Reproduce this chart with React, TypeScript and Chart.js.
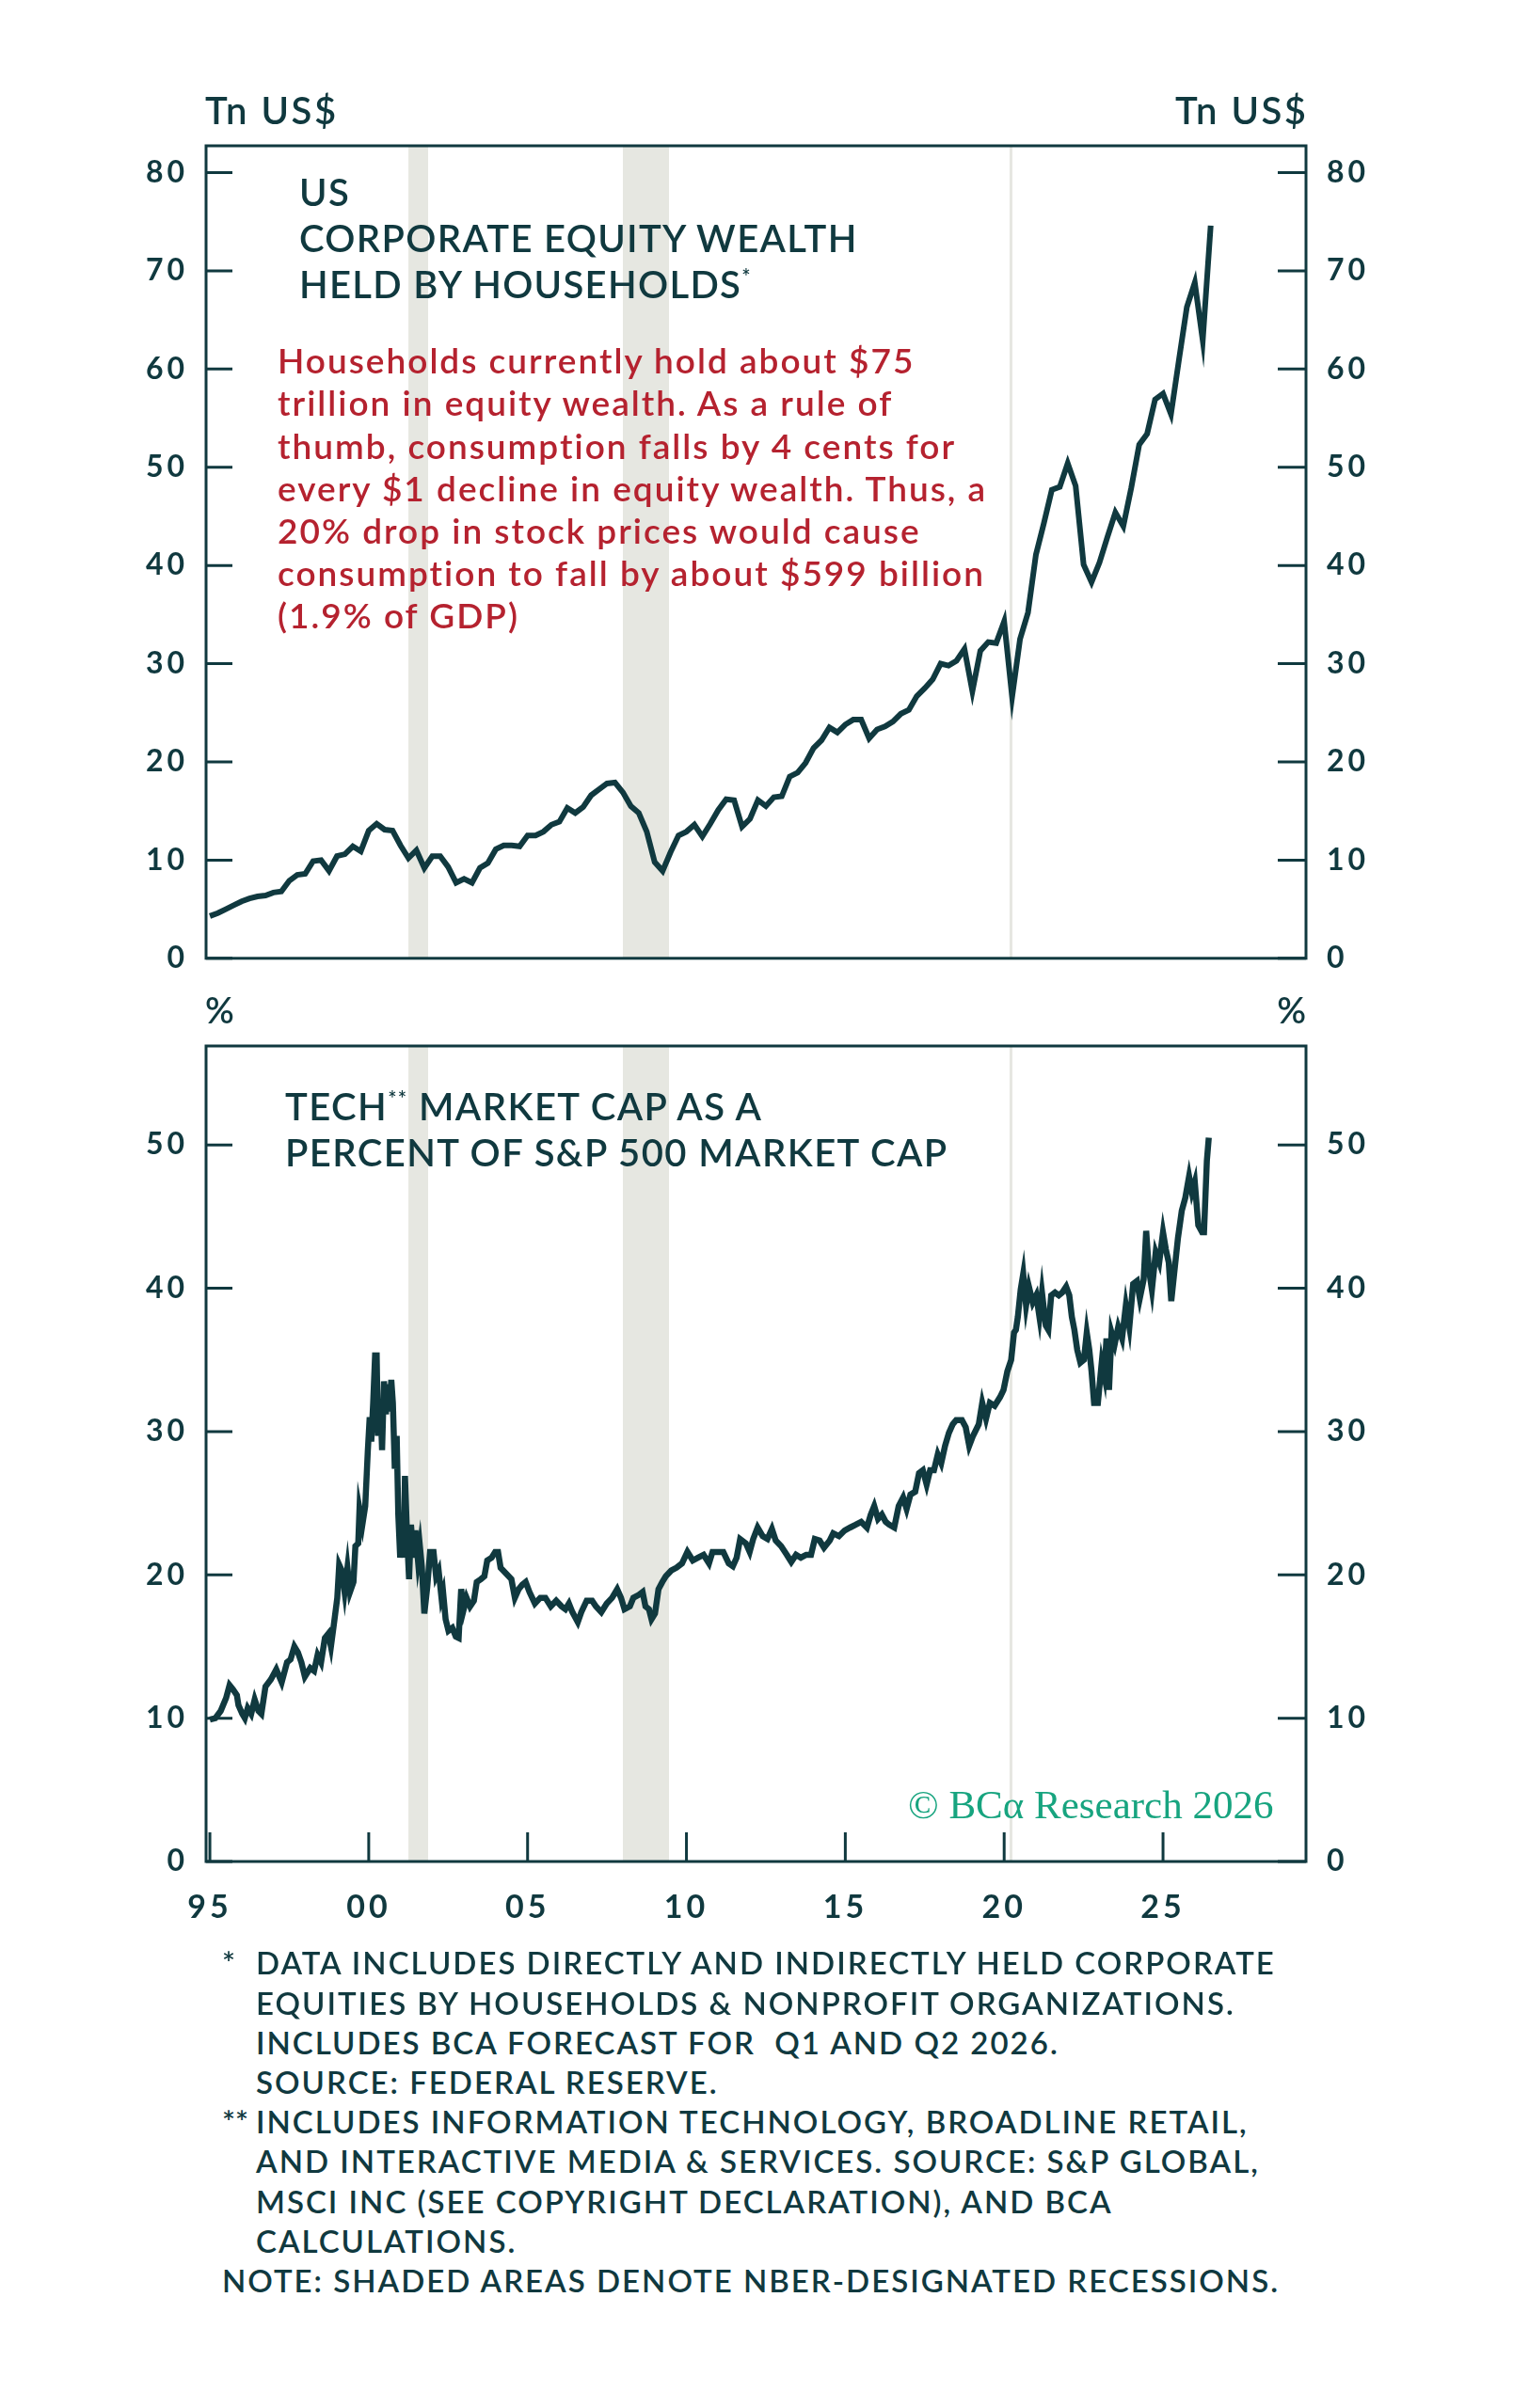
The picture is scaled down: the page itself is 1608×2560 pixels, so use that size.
import { useEffect, useRef } from "react";
import { Chart, registerables } from "chart.js";

Chart.register(...registerables);

const INK = "#10393f";
const RED = "#b5222f";
const BAND = "#e6e7e1";
const GREEN = "#17a47f";

// shared x range, decimal years
const xMin = 1994.88;
const xMax = 2029.5;
const xTickYears = [1995, 2000, 2005, 2010, 2015, 2020, 2025];

// NBER recessions
const recessionStart = [2001.25, 2008.0, 2020.17];
const recessionEnd = [2001.87, 2009.45, 2020.25];

// household equity wealth, Tn US$, quarterly from end of 1994Q4
const wealthStart = 1995;
const wealthTn = [
  4.3, 4.6, 5.0, 5.4, 5.8, 6.1, 6.3, 6.4, 6.7, 6.8,
  7.9, 8.5, 8.6, 9.9, 10.0, 8.9, 10.4, 10.6, 11.4, 10.9,
  13.0, 13.7, 13.1, 13.0, 11.5, 10.2, 11.0, 9.2, 10.4, 10.4,
  9.3, 7.7, 8.1, 7.7, 9.2, 9.7, 11.1, 11.5, 11.5, 11.4,
  12.5, 12.5, 12.9, 13.6, 13.9, 15.3, 14.8, 15.4, 16.6, 17.2,
  17.8, 17.9, 16.9, 15.5, 14.8, 12.9, 9.8, 8.9, 10.8, 12.5,
  12.9, 13.6, 12.4, 13.7, 15.1, 16.2, 16.1, 13.4, 14.2, 16.1,
  15.5, 16.4, 16.5, 18.5, 18.9, 19.9, 21.4, 22.2, 23.5, 23.0,
  23.8, 24.3, 24.3, 22.4, 23.3, 23.6, 24.1, 24.9, 25.3, 26.7,
  27.5, 28.4, 30.0, 29.8, 30.3, 31.5, 27.2, 31.3, 32.2, 32.1,
  34.3, 26.6, 32.5, 35.2, 41.1, 44.3, 47.7, 48.0, 50.4, 48.1,
  40.1, 38.3, 40.3, 42.9, 45.4, 44.0, 47.9, 52.3, 53.4, 56.9,
  57.5, 55.4, 60.9, 66.3, 68.8, 62.9, 74.6,
];

// tech share of S&P 500 market cap, %
const techYears = [
  1995.0, 1995.17, 1995.34, 1995.51, 1995.62, 1995.73, 1995.85, 1995.9, 1996.02, 1996.1,
  1996.19, 1996.3, 1996.41, 1996.53, 1996.62, 1996.75, 1996.92, 1997.09, 1997.26, 1997.43,
  1997.54, 1997.66, 1997.77, 1997.88, 1997.99, 1998.16, 1998.28, 1998.39, 1998.5, 1998.62,
  1998.73, 1998.81, 1998.9, 1999.01, 1999.07, 1999.15, 1999.24, 1999.33, 1999.41, 1999.52,
  1999.58, 1999.67, 1999.71, 1999.8, 1999.89, 1999.97, 2000.03, 2000.08, 2000.14, 2000.2,
  2000.25, 2000.29, 2000.37, 2000.42, 2000.48, 2000.54, 2000.59, 2000.65, 2000.71, 2000.76,
  2000.82, 2000.88, 2000.93, 2000.99, 2001.05, 2001.1, 2001.14, 2001.21, 2001.27, 2001.33,
  2001.41, 2001.47, 2001.55, 2001.61, 2001.67, 2001.75, 2001.84, 2001.93, 2002.04, 2002.12,
  2002.2, 2002.29, 2002.34, 2002.42, 2002.51, 2002.63, 2002.74, 2002.83, 2002.91, 2002.99,
  2003.08, 2003.19, 2003.31, 2003.4, 2003.53, 2003.64, 2003.73, 2003.87, 2003.98, 2004.07,
  2004.15, 2004.32, 2004.49, 2004.6, 2004.72, 2004.83, 2004.94, 2005.06, 2005.23, 2005.4,
  2005.56, 2005.73, 2005.9, 2006.07, 2006.19, 2006.3, 2006.41, 2006.58, 2006.69, 2006.86,
  2007.03, 2007.15, 2007.32, 2007.49, 2007.66, 2007.82, 2007.94, 2008.05, 2008.22, 2008.33,
  2008.5, 2008.62, 2008.71, 2008.82, 2008.9, 2009.01, 2009.12, 2009.24, 2009.35, 2009.52,
  2009.69, 2009.86, 2010.03, 2010.2, 2010.37, 2010.54, 2010.71, 2010.82, 2010.99, 2011.16,
  2011.33, 2011.46, 2011.58, 2011.69, 2011.87, 2011.99, 2012.1, 2012.24, 2012.4, 2012.55,
  2012.69, 2012.81, 2012.98, 2013.16, 2013.3, 2013.45, 2013.6, 2013.77, 2013.92, 2014.04,
  2014.19, 2014.33, 2014.51, 2014.62, 2014.8, 2014.98, 2015.15, 2015.33, 2015.5, 2015.68,
  2015.8, 2015.91, 2016.03, 2016.15, 2016.27, 2016.38, 2016.54, 2016.68, 2016.82, 2016.93,
  2017.05, 2017.2, 2017.32, 2017.44, 2017.56, 2017.67, 2017.79, 2017.91, 2018.02, 2018.14,
  2018.26, 2018.38, 2018.49, 2018.67, 2018.79, 2018.9, 2019.02, 2019.2, 2019.31, 2019.43,
  2019.55, 2019.7, 2019.87, 2019.98, 2020.1, 2020.22, 2020.31, 2020.37, 2020.43, 2020.52,
  2020.6, 2020.69, 2020.78, 2020.9, 2021.01, 2021.11, 2021.19, 2021.31, 2021.39, 2021.48,
  2021.6, 2021.72, 2021.83, 2021.95, 2022.05, 2022.13, 2022.21, 2022.3, 2022.4, 2022.51,
  2022.6, 2022.68, 2022.75, 2022.83, 2022.95, 2023.07, 2023.15, 2023.22, 2023.3, 2023.38,
  2023.48, 2023.59, 2023.71, 2023.83, 2023.94, 2024.06, 2024.18, 2024.27, 2024.39, 2024.47,
  2024.55, 2024.65, 2024.77, 2024.88, 2025.0, 2025.09, 2025.18, 2025.26, 2025.35, 2025.47,
  2025.59, 2025.7, 2025.82, 2025.91, 2026.0, 2026.11, 2026.23, 2026.29, 2026.38, 2026.44,
];
const techShare = [
  9.9, 10.0, 10.5, 11.4, 12.3, 12.0, 11.6, 10.9, 10.3, 10.0,
  10.7, 10.3, 11.3, 10.5, 10.3, 12.2, 12.7, 13.4, 12.5, 13.9,
  14.1, 15.0, 14.6, 13.9, 12.9, 13.5, 13.3, 14.4, 13.9, 15.6,
  15.9, 15.0, 16.5, 18.4, 20.7, 20.3, 18.8, 20.5, 18.8, 19.5,
  22.0, 22.2, 24.6, 23.5, 24.8, 28.6, 31.0, 29.3, 32.0, 35.3,
  35.3, 29.7, 32.0, 28.7, 33.5, 31.2, 33.3, 31.4, 33.6, 32.0,
  27.4, 29.7, 24.2, 21.2, 23.7, 21.2, 26.9, 22.5, 19.7, 23.5,
  21.2, 23.1, 21.0, 22.0, 20.6, 17.3, 19.1, 21.6, 21.6, 19.9,
  20.3, 18.4, 18.8, 16.9, 16.1, 16.3, 15.7, 15.6, 19.0, 17.6,
  18.4, 17.8, 18.2, 19.5, 19.7, 19.9, 21.0, 21.2, 21.6, 21.6,
  20.5, 20.1, 19.7, 18.4, 19.0, 19.3, 19.5, 18.8, 18.0, 18.4,
  18.4, 17.8, 18.2, 17.8, 17.6, 18.0, 17.4, 16.7, 17.4, 18.2,
  18.2, 17.8, 17.4, 18.0, 18.4, 19.0, 18.4, 17.6, 17.8, 18.4,
  18.6, 18.8, 17.8, 17.6, 16.9, 17.3, 19.0, 19.5, 19.9, 20.3,
  20.5, 20.8, 21.6, 21.0, 21.2, 21.4, 20.8, 21.6, 21.6, 21.6,
  20.8, 20.6, 21.2, 22.5, 22.2, 21.6, 22.5, 23.3, 22.7, 22.5,
  23.2, 22.4, 22.0, 21.4, 20.9, 21.4, 21.2, 21.4, 21.4, 22.5,
  22.4, 21.9, 22.4, 22.9, 22.7, 23.1, 23.3, 23.5, 23.7, 23.3,
  24.2, 24.8, 23.9, 24.2, 23.7, 23.5, 23.3, 24.8, 25.4, 24.6,
  25.6, 25.8, 27.1, 27.3, 26.3, 27.3, 27.3, 28.4, 27.8, 29.0,
  29.9, 30.5, 30.8, 30.8, 30.3, 29.0, 29.7, 30.5, 32.0, 30.9,
  32.0, 31.8, 32.4, 32.9, 34.2, 35.0, 36.9, 37.1, 38.0, 39.9,
  41.0, 38.8, 40.1, 39.0, 39.5, 38.0, 39.7, 37.4, 37.1, 39.5,
  39.7, 39.5, 39.7, 40.1, 39.5, 38.0, 37.1, 35.7, 34.8, 35.0,
  36.9, 35.7, 34.2, 32.0, 32.0, 34.8, 33.9, 36.5, 32.9, 36.9,
  36.1, 37.3, 36.5, 38.8, 37.3, 40.3, 40.5, 39.3, 40.6, 44.0,
  41.4, 39.9, 42.5, 41.8, 43.9, 42.7, 41.8, 39.1, 41.0, 43.5,
  45.4, 46.3, 47.8, 46.7, 47.4, 44.4, 43.9, 43.9, 48.9, 50.5,
];

const W = 1608;
const PLOT_L = 219;
const PLOT_R = 1388;

const tickFont = { family: "Lato", size: 32, weight: 700 as const };

// recession bands under the line, frame and inward tick marks on top
const framePlugin = {
  id: "frame",
  beforeDraw(chart: any) {
    chart.ctx.letterSpacing = "4px";
  },
  beforeDatasetsDraw(chart: any) {
    const { ctx, chartArea: a, scales } = chart;
    ctx.save();
    ctx.fillStyle = BAND;
    recessionStart.forEach((s, i) => {
      const x0 = scales.x.getPixelForValue(s);
      const x1 = scales.x.getPixelForValue(recessionEnd[i]);
      ctx.fillRect(x0, a.top, Math.max(x1 - x0, 3), a.bottom - a.top);
    });
    ctx.restore();
  },
  afterDatasetsDraw(chart: any, _args: any, opts: any) {
    const { ctx, chartArea: a, scales } = chart;
    ctx.save();
    ctx.strokeStyle = INK;
    ctx.lineWidth = 3;
    ctx.strokeRect(a.left, a.top, a.right - a.left, a.bottom - a.top);
    ctx.beginPath();
    scales.y.ticks.forEach((t: any) => {
      const py = scales.y.getPixelForValue(t.value);
      ctx.moveTo(a.left, py);
      ctx.lineTo(a.left + 28, py);
      ctx.moveTo(a.right - 30, py);
      ctx.lineTo(a.right, py);
    });
    if (opts && opts.xTicks) {
      xTickYears.forEach((v) => {
        const px = scales.x.getPixelForValue(v);
        ctx.moveTo(px, a.bottom);
        ctx.lineTo(px, a.bottom - 31);
      });
    }
    ctx.stroke();
    ctx.restore();
  },
  afterDraw(chart: any) {
    chart.ctx.letterSpacing = "0px";
  },
};

function yAxes(yMax: number) {
  const common = {
    min: 0,
    max: yMax,
    afterBuildTicks: (s: any) => {
      s.ticks = s.ticks.filter((t: any) => t.value % 10 === 0);
    },
    grid: { display: false, drawTicks: false },
    border: { display: false },
  };
  return {
    y: {
      ...common,
      position: "left" as const,
      ticks: { stepSize: 10, includeBounds: false, padding: 19, color: INK, font: tickFont },
      afterFit: (s: any) => {
        s.width = PLOT_L;
      },
    },
    y2: {
      ...common,
      position: "right" as const,
      ticks: { stepSize: 10, includeBounds: false, padding: 22, color: INK, font: tickFont },
      afterFit: (s: any) => {
        s.width = W - PLOT_R;
      },
    },
  };
}

function Txt(props: {
  x: number;
  y: number;
  size: number;
  weight?: number;
  color?: string;
  align?: "left" | "right";
  family?: string;
  ascent?: number;
  spacing?: number;
  children: any;
}) {
  const {
    x,
    y,
    size,
    weight = 600,
    color = INK,
    align = "left",
    family = "Lato",
    ascent = 0.987,
    spacing = 0,
  } = props;
  const style: any = {
    position: "absolute",
    top: y - ascent * size,
    fontSize: size,
    lineHeight: 1.2,
    fontFamily: family,
    fontWeight: weight,
    letterSpacing: spacing,
    color,
    whiteSpace: "pre",
  };
  if (align === "left") style.left = x;
  else style.right = W - x - spacing;
  return <div style={style}>{props.children}</div>;
}

const sup = { fontSize: "0.55em", verticalAlign: "0.7em" };

const App = () => {
  const topRef = useRef<HTMLCanvasElement>(null);
  const botRef = useRef<HTMLCanvasElement>(null);

  useEffect(() => {
    if (!topRef.current || !botRef.current) return;

    const top = new Chart(topRef.current, {
      type: "line",
      data: {
        datasets: [
          {
            data: wealthTn.map((v, i) => ({ x: wealthStart + i / 4, y: v })),
            borderColor: INK,
            borderWidth: 6,
            pointRadius: 0,
            tension: 0,
          },
        ],
      },
      options: {
        animation: false,
        responsive: false,
        events: [],
        layout: { padding: { top: 155, bottom: 25, left: 0, right: 0 } },
        plugins: { legend: { display: false }, tooltip: { enabled: false }, frame: { xTicks: false } } as any,
        scales: {
          x: { type: "linear", display: false, min: xMin, max: xMax },
          ...yAxes(82.73),
        },
      },
      plugins: [framePlugin],
    });

    const bot = new Chart(botRef.current, {
      type: "line",
      data: {
        datasets: [
          {
            data: techShare.map((v, i) => ({ x: techYears[i], y: v })),
            borderColor: INK,
            borderWidth: 6.5,
            pointRadius: 0,
            tension: 0,
          },
        ],
      },
      options: {
        animation: false,
        responsive: false,
        events: [],
        layout: { padding: { top: 52, bottom: 0, left: 0, right: 0 } },
        plugins: { legend: { display: false }, tooltip: { enabled: false }, frame: { xTicks: true } } as any,
        scales: {
          x: {
            type: "linear",
            min: xMin,
            max: xMax,
            afterBuildTicks: (s: any) => {
              s.ticks = xTickYears.map((v) => ({ value: v }));
            },
            ticks: {
              callback: (v: any) => String(Number(v) % 100).padStart(2, "0"),
              padding: 29,
              color: INK,
              font: { family: "Lato", size: 34, weight: 700 },
              maxRotation: 0,
              autoSkip: false,
            },
            grid: { display: false, drawTicks: false },
            border: { display: false },
            afterFit: (s: any) => {
              s.height = 121;
            },
          },
          ...yAxes(56.9),
        },
      },
      plugins: [framePlugin],
    });

    return () => {
      top.destroy();
      bot.destroy();
    };
  }, []);

  const footX = 272;
  const footY = (k: number) => 2100 + 42.2 * k;
  const fs = 33;
  const fsp = 2;

  return (
    <div
      style={{
        position: "absolute",
        left: 0,
        top: 0,
        width: W,
        height: 2560,
        background: "#fff",
        overflow: "hidden",
      }}
    >
      <canvas
        ref={topRef}
        width={W}
        height={1060}
        style={{ position: "absolute", left: 0, top: 0, width: W, height: 1060 }}
      />
      <canvas
        ref={botRef}
        width={W}
        height={1040}
        style={{ position: "absolute", left: 0, top: 1060, width: W, height: 1040 }}
      />

      <Txt x={218} y={132} size={40} spacing={2.5}>Tn US$</Txt>
      <Txt x={PLOT_R} y={132} size={40} spacing={2.5} align="right">Tn US$</Txt>
      <Txt x={218} y={1089} size={38}>%</Txt>
      <Txt x={PLOT_R} y={1089} size={38} align="right">%</Txt>

      <Txt x={318} y={219} size={40} spacing={1.3}>US</Txt>
      <Txt x={318} y={268} size={40} spacing={1.3}>CORPORATE EQUITY WEALTH</Txt>
      <Txt x={318} y={317} size={40} spacing={1.3}>
        HELD BY HOUSEHOLDS<span style={sup}>*</span>
      </Txt>

      <Txt x={295} y={398} size={37} spacing={2} color={RED}>Households currently hold about $75</Txt>
      <Txt x={295} y={443} size={37} spacing={2} color={RED}>trillion in equity wealth. As a rule of</Txt>
      <Txt x={295} y={489} size={37} spacing={2} color={RED}>thumb, consumption falls by 4 cents for</Txt>
      <Txt x={295} y={534} size={37} spacing={2} color={RED}>every $1 decline in equity wealth. Thus, a</Txt>
      <Txt x={295} y={579} size={37} spacing={2} color={RED}>20% drop in stock prices would cause</Txt>
      <Txt x={295} y={624} size={37} spacing={2} color={RED}>consumption to fall by about $599 billion</Txt>
      <Txt x={295} y={669} size={37} spacing={2} color={RED}>(1.9% of GDP)</Txt>

      <Txt x={303} y={1191} size={40} spacing={1.4}>
        TECH<span style={sup}>**</span> MARKET CAP AS A
      </Txt>
      <Txt x={303} y={1240} size={40} spacing={1.4}>PERCENT OF S&amp;P 500 MARKET CAP</Txt>

      <Txt
        x={965}
        y={1931}
        size={43}
        weight={400}
        color={GREEN}
        family="'Liberation Serif', serif"
        ascent={0.891}
      >
        © BCα Research 2026
      </Txt>

      <Txt x={236} y={footY(0)} size={fs}>*</Txt>
      <Txt x={footX} y={footY(0)} size={fs} spacing={fsp}>DATA INCLUDES DIRECTLY AND INDIRECTLY HELD CORPORATE</Txt>
      <Txt x={footX} y={footY(1)} size={fs} spacing={fsp}>EQUITIES BY HOUSEHOLDS &amp; NONPROFIT ORGANIZATIONS.</Txt>
      <Txt x={footX} y={footY(2)} size={fs} spacing={fsp}>INCLUDES BCA FORECAST FOR  Q1 AND Q2 2026.</Txt>
      <Txt x={footX} y={footY(3)} size={fs} spacing={fsp}>SOURCE: FEDERAL RESERVE.</Txt>
      <Txt x={236} y={footY(4)} size={fs}>**</Txt>
      <Txt x={footX} y={footY(4)} size={fs} spacing={fsp}>INCLUDES INFORMATION TECHNOLOGY, BROADLINE RETAIL,</Txt>
      <Txt x={footX} y={footY(5)} size={fs} spacing={fsp}>AND INTERACTIVE MEDIA &amp; SERVICES. SOURCE: S&amp;P GLOBAL,</Txt>
      <Txt x={footX} y={footY(6)} size={fs} spacing={fsp}>MSCI INC (SEE COPYRIGHT DECLARATION), AND BCA</Txt>
      <Txt x={footX} y={footY(7)} size={fs} spacing={fsp}>CALCULATIONS.</Txt>
      <Txt x={236} y={footY(8)} size={fs} spacing={fsp}>NOTE: SHADED AREAS DENOTE NBER-DESIGNATED RECESSIONS.</Txt>
    </div>
  );
};

export default App;
